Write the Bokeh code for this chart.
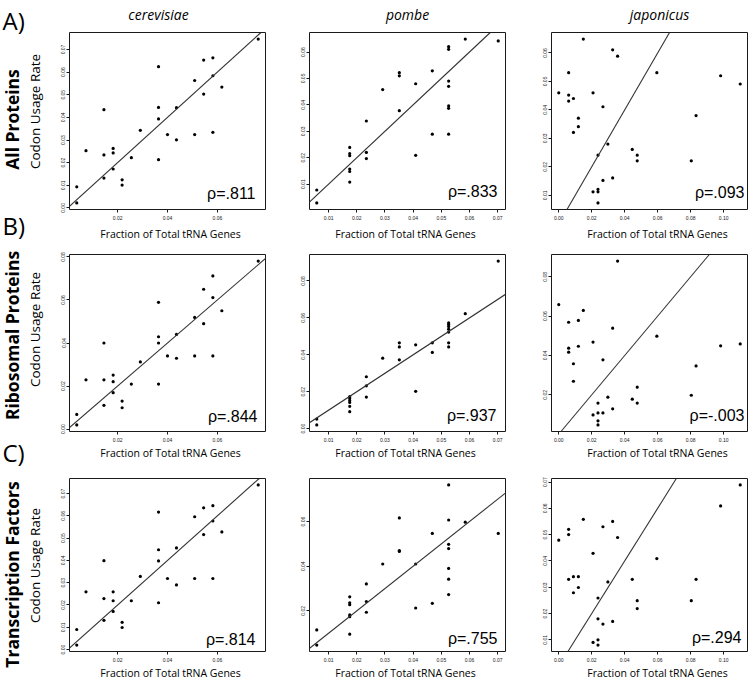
import math
from bokeh.plotting import figure
from bokeh.layouts import row, column
from bokeh.models import Range1d, FixedTicker, PrintfTickFormatter, Slope, Label
from bokeh.embed import file_html
from bokeh.resources import INLINE

# ---------------- data ----------------
species = ["cerevisiae", "pombe", "japonicus"]
gene_sets = ["All Proteins", "Ribosomal Proteins", "Transcription Factors"]
panel_letters = ["A)", "B)", "C)"]
y_title = "Codon Usage Rate"
x_title = "Fraction of Total tRNA Genes"
rho_labels = [["ρ=.811", "ρ=.833", "ρ=.093"],
              ["ρ=.844", "ρ=.937", "ρ=-.003"],
              ["ρ=.814", "ρ=.755", "ρ=.294"]]

# fraction of total tRNA genes (x), one list per species
cer_x = [0.0036, 0.0036, 0.0073, 0.0145, 0.0145, 0.0145, 0.0182, 0.0182, 0.0182,
         0.0218, 0.0218, 0.0255, 0.0291, 0.0364, 0.0364, 0.0364, 0.0364, 0.0400,
         0.0436, 0.0436, 0.0509, 0.0509, 0.0545, 0.0545, 0.0582, 0.0582, 0.0582,
         0.0618, 0.0764]
pom_x = [0.0058, 0.0058, 0.0175, 0.0175, 0.0175, 0.0175, 0.0175, 0.0175,
         0.0234, 0.0234, 0.0234, 0.0292, 0.0351, 0.0351, 0.0351, 0.0409, 0.0409,
         0.0468, 0.0468, 0.0526, 0.0526, 0.0526, 0.0526, 0.0526, 0.0526, 0.0526,
         0.0585, 0.0702]
jap_x = [0.0000, 0.0060, 0.0060, 0.0060, 0.0089, 0.0089, 0.0119, 0.0119, 0.0149,
         0.0208, 0.0208, 0.0238, 0.0238, 0.0238, 0.0238, 0.0268, 0.0268, 0.0298,
         0.0327, 0.0327, 0.0357, 0.0446, 0.0476, 0.0476, 0.0595, 0.0804, 0.0833,
         0.0982, 0.1101]

# codon usage rate (y)
cer_all = [0.0093, 0.0022, 0.0253, 0.0434, 0.0234, 0.0132, 0.0263, 0.0243, 0.0172,
           0.0124, 0.0101, 0.0222, 0.0343, 0.0624, 0.0444, 0.0393, 0.0213, 0.0324,
           0.0443, 0.0301, 0.0563, 0.0324, 0.0653, 0.0503, 0.0663, 0.0584, 0.0334,
           0.0534, 0.0746]
cer_ribo = [0.0068, 0.0019, 0.0229, 0.0400, 0.0229, 0.0110, 0.0251, 0.0220, 0.0169,
            0.0130, 0.0099, 0.0209, 0.0312, 0.0589, 0.0429, 0.0400, 0.0209, 0.0340,
            0.0440, 0.0329, 0.0519, 0.0340, 0.0650, 0.0490, 0.0712, 0.0611, 0.0340,
            0.0550, 0.0781]
cer_tf = [0.0090, 0.0020, 0.0259, 0.0399, 0.0229, 0.0131, 0.0259, 0.0219, 0.0171,
          0.0122, 0.0099, 0.0219, 0.0328, 0.0617, 0.0448, 0.0398, 0.0210, 0.0319,
          0.0456, 0.0290, 0.0596, 0.0319, 0.0636, 0.0516, 0.0646, 0.0577, 0.0319,
          0.0528, 0.0739]

pom_all = [0.0078, 0.0029, 0.0239, 0.0216, 0.0208, 0.0157, 0.0148, 0.0108,
           0.0339, 0.0220, 0.0197, 0.0458, 0.0522, 0.0510, 0.0378, 0.0480, 0.0209,
           0.0529, 0.0289, 0.0620, 0.0610, 0.0490, 0.0470, 0.0396, 0.0387, 0.0289,
           0.0649, 0.0642]
pom_ribo = [0.0052, 0.0020, 0.0173, 0.0164, 0.0153, 0.0142, 0.0121, 0.0092,
            0.0281, 0.0232, 0.0171, 0.0382, 0.0465, 0.0443, 0.0373, 0.0454, 0.0202,
            0.0465, 0.0413, 0.0573, 0.0564, 0.0553, 0.0539, 0.0523, 0.0465, 0.0443,
            0.0623, 0.0908]
pom_tf = [0.0115, 0.0047, 0.0263, 0.0236, 0.0228, 0.0182, 0.0174, 0.0096,
          0.0321, 0.0242, 0.0194, 0.0410, 0.0616, 0.0470, 0.0466, 0.0410, 0.0213,
          0.0547, 0.0234, 0.0764, 0.0607, 0.0498, 0.0479, 0.0390, 0.0342, 0.0273,
          0.0597, 0.0547]

jap_all = [0.0460, 0.0531, 0.0452, 0.0431, 0.0440, 0.0321, 0.0371, 0.0341, 0.0649,
           0.0460, 0.0112, 0.0241, 0.0121, 0.0112, 0.0073, 0.0411, 0.0152, 0.0280,
           0.0611, 0.0161, 0.0589, 0.0261, 0.0241, 0.0221, 0.0531, 0.0221, 0.0380,
           0.0520, 0.0491]
jap_ribo = [0.0659, 0.0569, 0.0437, 0.0417, 0.0358, 0.0269, 0.0578, 0.0447, 0.0629,
            0.0468, 0.0098, 0.0158, 0.0108, 0.0068, 0.0047, 0.0378, 0.0108, 0.0188,
            0.0539, 0.0129, 0.0880, 0.0178, 0.0239, 0.0158, 0.0498, 0.0198, 0.0347,
            0.0449, 0.0459]
jap_tf = [0.0479, 0.0520, 0.0500, 0.0330, 0.0340, 0.0279, 0.0340, 0.0299, 0.0558,
          0.0429, 0.0090, 0.0259, 0.0180, 0.0100, 0.0080, 0.0530, 0.0160, 0.0320,
          0.0550, 0.0170, 0.0489, 0.0330, 0.0249, 0.0219, 0.0409, 0.0249, 0.0330,
          0.0609, 0.0689]

x_values = [cer_x, pom_x, jap_x]
y_values = [[cer_all, pom_all, jap_all],
            [cer_ribo, pom_ribo, jap_ribo],
            [cer_tf, pom_tf, jap_tf]]

# tick values
x_ticks = [[0.02, 0.04, 0.06],
           [0.01, 0.02, 0.03, 0.04, 0.05, 0.06, 0.07],
           [0.00, 0.02, 0.04, 0.06, 0.08, 0.10]]
y_ticks = [[[0.00, 0.01, 0.02, 0.03, 0.04, 0.05, 0.06, 0.07],
            [0.01, 0.02, 0.03, 0.04, 0.05, 0.06],
            [0.01, 0.02, 0.03, 0.04, 0.05, 0.06]],
           [[0.00, 0.02, 0.04, 0.06, 0.08],
            [0.00, 0.02, 0.04, 0.06, 0.08],
            [0.02, 0.04, 0.06, 0.08]],
           [[0.00, 0.01, 0.02, 0.03, 0.04, 0.05, 0.06, 0.07],
            [0.02, 0.04, 0.06],
            [0.01, 0.02, 0.03, 0.04, 0.05, 0.06, 0.07]]]

# ---------------- layout (pixels) ----------------
TOTAL_W, TOTAL_H = 750, 679
LEFT_W = 58                      # strip holding the row titles
HEADER_H = 32                    # strip holding the column titles
col_w = [229, 242, 221]
border_l = [11, 22, 22]
border_r = [22, 24, 3]
row_h = [192, 206, 203]
border_t = [0, 14, 16]
border_b = [15, 15, 14]
strip_h = [16, 16, 14]           # strips below each panel row (x-axis titles)

# text placement (page pixels; text is centred on these points)
rho_right = [[10, 8, 3], [8, 9, 3], [10, 8, 6]]
rho_mid = [[16, 18, 17], [15, 16, 16], [12, 13, 14]]   # text middle above frame bottom
xlab_mid = [233, 452.5, 672.5]
xlab_cx = [170, 405, 657]
title_cx = [158, 407, 659]
title_mid = 13.5
letter_mid = [19.5, 224.5, 451.5]
bold_cx, codon_cx = 11.5, 34
bold_cy = [119, 335, 574]
codon_cy = [111, 329, 565]

MYRIAD = "Open Sans"
HELV = "Liberation Sans"
INK = "#1a1a1a"


def r_range(v):
    lo, hi = min(v), max(v)
    pad = 0.04 * (hi - lo)
    return lo - pad, hi + pad


def text_canvas(w, h, x0, y0):
    """blank figure whose data coordinates are page pixels (y downward)"""
    f = figure(width=w, height=h, x_range=Range1d(x0, x0 + w), y_range=Range1d(y0 + h, y0),
               x_axis_type=None, y_axis_type=None, toolbar_location=None,
               output_backend="svg", title=None,
               min_border_left=0, min_border_right=0, min_border_top=0, min_border_bottom=0)
    f.outline_line_color = None
    f.background_fill_color = "white"
    f.border_fill_color = "white"
    return f


def add_text(f, x, y, text, size, align="center", font=MYRIAD, style="normal", angle=0.0):
    f.add_layout(Label(x=x, y=y, text=text, text_align=align, text_baseline="middle",
                       text_font=font, text_font_size=size, text_font_style=style,
                       angle=angle, text_color="black"))


# left strip: panel letters and row titles
left = text_canvas(LEFT_W, TOTAL_H, 0, 0)
for r in range(3):
    add_text(left, 2, letter_mid[r], panel_letters[r], "24px", align="left")
    add_text(left, bold_cx, bold_cy[r], gene_sets[r], "17.5px", style="bold", angle=math.pi / 2)
    add_text(left, codon_cx, codon_cy[r], y_title, "13.5px", angle=math.pi / 2)

# header: species names
header = text_canvas(TOTAL_W - LEFT_W, HEADER_H, LEFT_W, 0)
for c in range(3):
    add_text(header, title_cx[c], title_mid, species[c], "14px", style="italic")

blocks = [header]
ypos = HEADER_H
for r in range(3):
    panels = []
    for c in range(3):
        xs = x_values[c]
        ys = y_values[r][c]
        x0, x1 = r_range(xs)
        y0, y1 = r_range(ys)
        p = figure(width=col_w[c], height=row_h[r],
                   x_range=Range1d(x0, x1), y_range=Range1d(y0, y1),
                   min_border_left=border_l[c], min_border_right=border_r[c],
                   min_border_top=border_t[r], min_border_bottom=border_b[r],
                   toolbar_location=None, output_backend="svg", title=None)
        p.xgrid.visible = False
        p.ygrid.visible = False
        p.outline_line_color = INK
        p.outline_line_width = 1
        p.background_fill_color = "white"
        p.border_fill_color = "white"

        p.xaxis.ticker = FixedTicker(ticks=x_ticks[c])
        p.yaxis.ticker = FixedTicker(ticks=y_ticks[r][c])
        for ax in (p.xaxis[0], p.yaxis[0]):
            ax.formatter = PrintfTickFormatter(format="%.2f")
            ax.axis_line_color = None
            ax.major_tick_out = 3
            ax.major_tick_in = 0
            ax.major_tick_line_color = INK
            ax.minor_tick_line_color = None
            ax.major_label_text_font = HELV
            ax.major_label_text_font_size = "5px"
            ax.major_label_text_color = INK
        p.xaxis.major_label_standoff = 3
        p.yaxis.major_label_standoff = 1
        p.yaxis.major_label_orientation = "vertical"

        p.add_layout(Slope(gradient=1, y_intercept=0, line_color="#333333", line_width=1.1))
        p.scatter(xs, ys, size=3.2, color="black", line_width=0)

        p.add_layout(Label(x=x1, y=y0, x_offset=-rho_right[r][c], y_offset=rho_mid[r][c],
                           text=rho_labels[r][c], text_align="right", text_baseline="middle",
                           text_font=HELV, text_font_size="16px", text_color="black"))
        panels.append(p)
    blocks.append(row(*panels))
    ypos += row_h[r]
    strip = text_canvas(TOTAL_W - LEFT_W, strip_h[r], LEFT_W, ypos)
    for c in range(3):
        add_text(strip, xlab_cx[c], xlab_mid[r], x_title, "10.5px")
    blocks.append(strip)
    ypos += strip_h[r]

layout = row(left, column(*blocks))

with open("out.html", "w") as f:
    f.write(file_html(layout, INLINE))
